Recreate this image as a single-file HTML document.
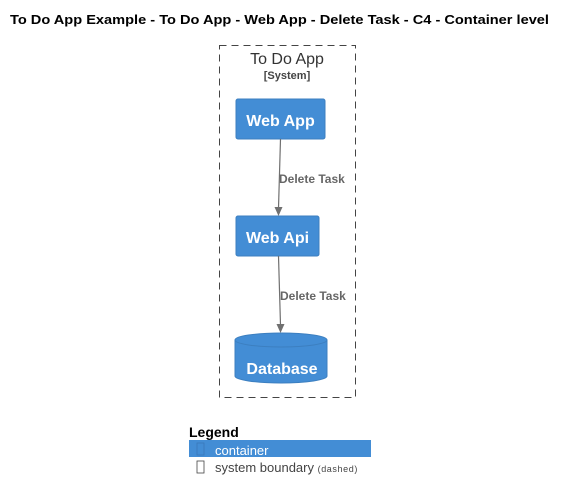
<!DOCTYPE html>
<html><head><meta charset="utf-8"><style>
html,body{margin:0;padding:0;background:#fff;width:567px;height:501px;overflow:hidden}
svg{display:block;font-family:"Liberation Sans",Arial,sans-serif}
</style></head><body>
<svg width="567" height="501" viewBox="0 0 567 501">
<text x="10" y="24" font-size="13" font-weight="bold" fill="#000" textLength="539" lengthAdjust="spacingAndGlyphs">To Do App Example - To Do App - Web App - Delete Task - C4 - Container level</text>
<rect x="219.5" y="45.5" width="136" height="352" fill="none" stroke="#444" stroke-dasharray="7,5"/>
<text x="287" y="64" font-size="16" fill="#333" text-anchor="middle">To Do App</text>
<text x="287" y="79" font-size="11" font-weight="bold" fill="#444" text-anchor="middle">[System]</text>
<rect x="236" y="99" width="89" height="40" rx="2" fill="#438dd5" stroke="#3c7fc0"/>
<text x="280.5" y="126" font-size="16" font-weight="bold" fill="#fff" text-anchor="middle">Web App</text>
<rect x="236" y="216" width="83" height="40" rx="2" fill="#438dd5" stroke="#3c7fc0"/>
<text x="277.5" y="243" font-size="16" font-weight="bold" fill="#fff" text-anchor="middle">Web Api</text>
<path d="M235,340 L235,376 A46,7 0 0 0 327,376 L327,340" fill="#438dd5" stroke="#3c7fc0"/>
<ellipse cx="281" cy="340" rx="46" ry="7" fill="#438dd5" stroke="#3c7fc0"/>
<text x="282" y="374" font-size="16" font-weight="bold" fill="#fff" text-anchor="middle">Database</text>
<line x1="280.5" y1="139" x2="278.5" y2="208" stroke="#707070" stroke-width="1.2"/>
<polygon points="274.5,207 282.5,207 278.5,216" fill="#707070"/>
<text x="279" y="183" font-size="12" font-weight="bold" fill="#666">Delete Task</text>
<line x1="278.5" y1="256" x2="280.5" y2="325" stroke="#707070" stroke-width="1.2"/>
<polygon points="276.5,324 284.5,324 280.5,333" fill="#707070"/>
<text x="280" y="300" font-size="12" font-weight="bold" fill="#666">Delete Task</text>
<text x="189" y="437" font-size="14" font-weight="bold" fill="#000">Legend</text>
<rect x="189" y="440" width="182" height="17" fill="#438dd5"/>
<rect x="197" y="443" width="7" height="12" fill="none" stroke="#3a78b8" stroke-width="0.8"/>
<text x="215" y="455" font-size="13" fill="#fff">container</text>
<rect x="197" y="461" width="7" height="12" fill="none" stroke="#444" stroke-width="0.8"/>
<text x="215" y="472" font-size="13" fill="#444">system boundary <tspan font-size="9" letter-spacing="0.6">(dashed)</tspan></text>
</svg>
</body></html>
